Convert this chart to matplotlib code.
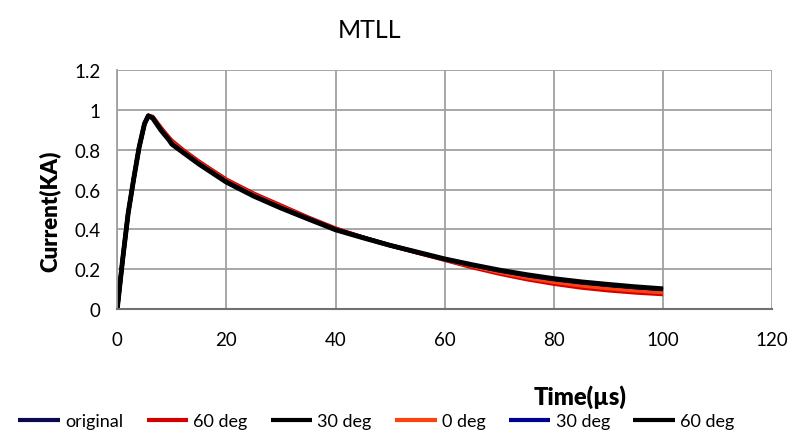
import numpy as np
import matplotlib.pyplot as plt

# time (us) and current (kA)
t = [0, 1, 2, 3, 4, 5, 5.7, 6.5, 8, 9.5, 10, 12, 15, 20, 25, 30, 35, 40, 45, 50, 55, 60, 65, 70, 75, 80, 85, 90, 95, 100]
original = [0, 0.25, 0.48, 0.65, 0.81, 0.93, 0.97, 0.96, 0.90, 0.85, 0.83, 0.79, 0.73, 0.64, 0.57, 0.51, 0.455, 0.40, 0.36, 0.32, 0.285, 0.25, 0.22, 0.19, 0.165, 0.145, 0.128, 0.115, 0.104, 0.095]
deg60_r = [0, 0.25, 0.48, 0.65, 0.81, 0.93, 0.97, 0.965, 0.91, 0.86, 0.845, 0.80, 0.74, 0.65, 0.58, 0.52, 0.46, 0.405, 0.36, 0.32, 0.283, 0.247, 0.21, 0.178, 0.15, 0.127, 0.108, 0.094, 0.083, 0.075]
deg30_k = [0, 0.25, 0.48, 0.65, 0.81, 0.93, 0.97, 0.96, 0.90, 0.85, 0.83, 0.79, 0.73, 0.64, 0.57, 0.51, 0.455, 0.40, 0.36, 0.32, 0.285, 0.25, 0.22, 0.19, 0.165, 0.145, 0.128, 0.115, 0.104, 0.095]
deg0 = [0, 0.25, 0.48, 0.65, 0.81, 0.93, 0.97, 0.962, 0.905, 0.855, 0.838, 0.795, 0.735, 0.645, 0.575, 0.515, 0.457, 0.402, 0.36, 0.32, 0.284, 0.248, 0.215, 0.184, 0.157, 0.135, 0.117, 0.103, 0.092, 0.083]
deg30_b = [0, 0.25, 0.48, 0.65, 0.81, 0.93, 0.97, 0.96, 0.90, 0.85, 0.83, 0.79, 0.73, 0.64, 0.57, 0.51, 0.455, 0.40, 0.36, 0.32, 0.285, 0.25, 0.22, 0.192, 0.168, 0.148, 0.132, 0.119, 0.108, 0.099]
deg60_k = [0, 0.25, 0.48, 0.65, 0.81, 0.93, 0.97, 0.958, 0.898, 0.848, 0.828, 0.787, 0.727, 0.637, 0.567, 0.507, 0.452, 0.398, 0.358, 0.32, 0.286, 0.252, 0.223, 0.196, 0.173, 0.153, 0.137, 0.124, 0.112, 0.102]

series = [
    ('original', original, '#0a0a50', 2.5),
    ('60 deg', deg60_r, '#d40000', 3.0),
    ('30 deg', deg30_k, '#000000', 3.0),
    ('0 deg', deg0, '#ff4010', 2.5),
    ('30 deg', deg30_b, '#000090', 2.5),
    ('60 deg', deg60_k, '#000000', 3.5),
]

plt.rcParams['font.family'] = ['Lato', 'DejaVu Sans']

fig = plt.figure(figsize=(7.92, 4.35), dpi=100)
ax = fig.add_axes([0.148, 0.287, 0.827, 0.55])

for name, vals, col, lw in series:
    ax.plot(t, vals, color=col, linewidth=lw, label=name, solid_capstyle='butt')

ax.set_xlim(0, 120)
ax.set_ylim(0, 1.2)
ax.set_xticks(np.arange(0, 121, 20))
ax.set_yticks(np.arange(0, 1.21, 0.2))
ax.set_yticklabels(['0', '0.2', '0.4', '0.6', '0.8', '1', '1.2'])
ax.grid(True, color='#a0a0a0', linewidth=1.3)
ax.set_axisbelow(True)
for s in ['top', 'right']:
    ax.spines[s].set_visible(False)
ax.spines['left'].set_color('#a0a0a0')
ax.spines['left'].set_linewidth(1.3)
ax.spines['bottom'].set_color('#707070')
ax.spines['bottom'].set_linewidth(1.5)
ax.tick_params(length=0, labelsize=13.5, pad=12)
ax.tick_params(axis='x', pad=16)

fig.text(0.467, 0.93, 'MTLL', ha='center', va='center', fontsize=18)
fig.text(0.063, 0.515, 'Current(KA)', rotation=90, ha='center', va='center',
         fontsize=16, fontweight='heavy')
fig.text(0.732, 0.087, 'Time(µs)', ha='center', va='center',
         fontsize=17, fontweight='heavy')

leg = fig.legend(loc='center', bbox_to_anchor=(0.475, 0.03), ncol=6, frameon=False,
                 fontsize=13, handlelength=2.3, handletextpad=0.28, columnspacing=1.3)
for h in leg.get_lines():
    h.set_linewidth(3)

fig.savefig('out.png', dpi=100)
